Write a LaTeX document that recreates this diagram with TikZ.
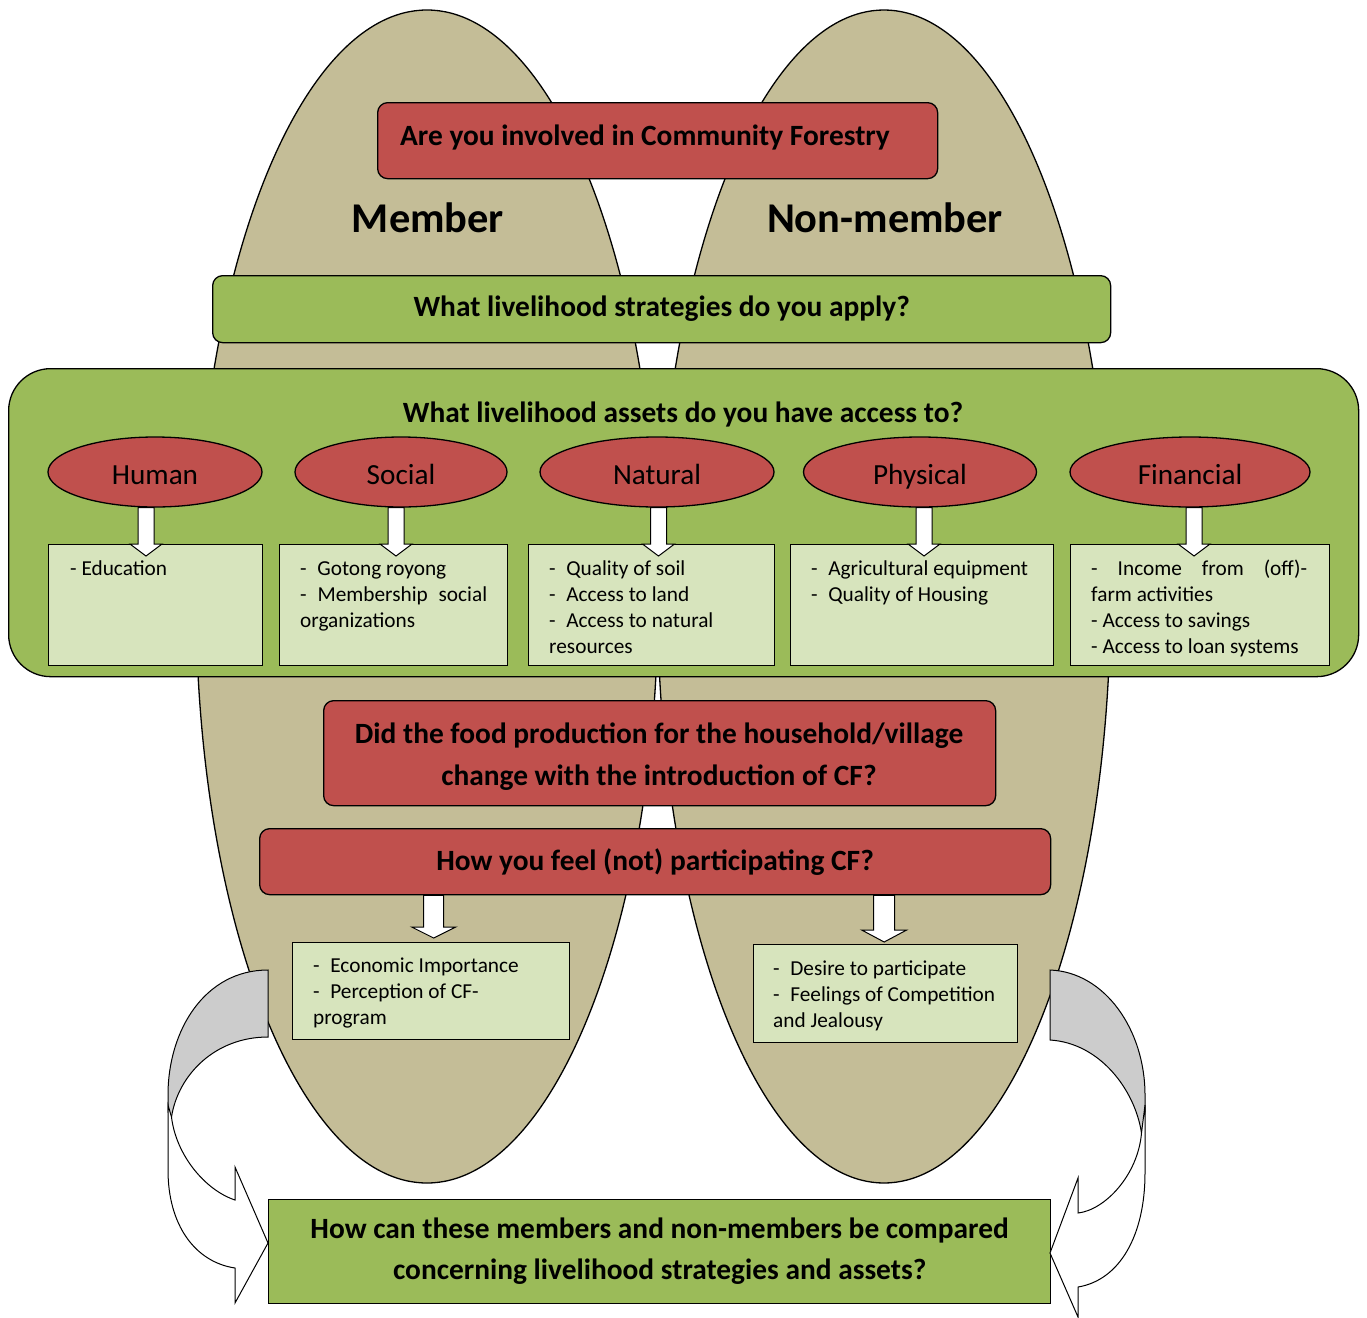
\documentclass[tikz,border=0pt]{standalone}
\usepackage{fontspec}
\setmainfont{Carlito}
\usetikzlibrary{calc,shapes.geometric}

\definecolor{cfTan}{HTML}{C4BD97}
\definecolor{cfRed}{HTML}{C0504D}
\definecolor{cfGreen}{HTML}{9BBB59}
\definecolor{cfLight}{HTML}{D7E4BD}
\definecolor{cfGray}{HTML}{CCCCCC}

\newcommand\headfont{\fontsize{29.4}{42}\selectfont\bfseries}
\newcommand\groupfont{\fontsize{42.4}{48}\selectfont\bfseries}
\newcommand\assetfont{\fontsize{29.2}{34}\selectfont}
\newcommand\itemfont{\fontsize{21.3}{26}\selectfont}

% white block arrow pointing down
% #1 x source, #2 shaft top source, #3 tip source, #4 x shift,
% #5 tip shift (down), #6 shaft half width, #7 head half width, #8 head length
\newcommand\blockdown[8]{%
  \draw[blockarrow] let \p1=(#1), \p2=(#2), \p3=(#3) in
    ({\x1+(#4)-#6},{\y2}) -- ({\x1+(#4)-#6},{\y3-(#5)+#8})
    -- ({\x1+(#4)-#7},{\y3-(#5)+#8}) -- ({\x1+(#4)},{\y3-(#5)})
    -- ({\x1+(#4)+#7},{\y3-(#5)+#8}) -- ({\x1+(#4)+#6},{\y3-(#5)+#8})
    -- ({\x1+(#4)+#6},{\y2}) -- cycle;}

\begin{document}
\begin{tikzpicture}[x=1pt,y=-1pt,
  base/.style={draw=black, line width=1.3pt},
  grp/.style={base, fill=cfTan, ellipse, inner sep=0pt, minimum height=1173pt},
  redbox/.style={base, fill=cfRed, rounded corners=10pt, anchor=north west, inner sep=0pt},
  greenbox/.style={base, fill=cfGreen, rounded corners=10pt, anchor=north west, inner sep=0pt},
  asset/.style={base, fill=cfRed, ellipse, inner sep=0pt, font=\assetfont,
    minimum height=70pt, text height=24pt, text depth=0pt},
  itembox/.style={base, fill=cfLight, anchor=north west, inner sep=0pt},
  itemtext/.style={anchor=north west, inner sep=0pt, font=\itemfont, align=left},
  headtext/.style={font=\headfont, inner sep=0pt, align=center},
  blockarrow/.style={draw=black, line width=1pt, fill=white, line join=miter},
  backface/.style={draw=black, line width=1pt, fill=cfGray, line join=miter},
  frontface/.style={draw=black, line width=1pt, fill=white, line join=miter}]

\useasboundingbox (0,0) rectangle (1367,1317);

% the two groups
\node[grp, minimum width=462pt] (memgrp) at (427,596.5) {};
\node[grp, minimum width=453pt] (nongrp) at (884,596.5) {};

% opening question and group names
\node[redbox, minimum width=560pt, minimum height=76pt] (cfbox) at (377,102) {};
\node[headtext] (cfq) at (645,137) {Are you involved in Community Forestry};
\node[font=\groupfont, inner sep=0pt] (memlbl) at (428,218) {Member};
\node[font=\groupfont, inner sep=0pt] (nonlbl) at (885,218) {Non-member};

% strategies
\node[greenbox, font=\headfont, minimum width=898pt, minimum height=67pt] (strat) at (212,275)
  {What livelihood strategies do you apply?};

% assets panel
\node[greenbox, rounded corners=42pt, minimum width=1350pt, minimum height=308pt] (assets) at (8,368) {};
\node[headtext] (assetq) at (683,414) {What livelihood assets do you have access to?};

\node[asset, minimum width=214pt] (hum) at (155,472) {Human};
\node[asset, minimum width=212pt] (soc) at (401,472) {Social};
\node[asset, minimum width=234pt] (nat) at (657,472) {Natural};
\node[asset, minimum width=233pt] (phy) at (920,472) {Physical};
\node[asset, minimum width=240pt] (fin) at (1190,472) {Financial};

\node[itembox, minimum width=214pt, minimum height=121pt] (humbox) at (48,544) {};
\node[itembox, minimum width=228pt, minimum height=121pt] (socbox) at (279,544) {};
\node[itembox, minimum width=246pt, minimum height=121pt] (natbox) at (528,544) {};
\node[itembox, minimum width=263pt, minimum height=121pt] (phybox) at (790,544) {};
\node[itembox, minimum width=259pt, minimum height=121pt] (finbox) at (1070,544) {};

\node[itemtext] (humtxt) at ([shift={(22,13)}]humbox.north west)
  {\strut- Education};
\node[itemtext] (soctxt) at ([shift={(21,13)}]socbox.north west)
  {\strut-\hspace{0.5em}Gotong royong\\\makebox[187pt][s]{- Membership social}\\organizations};
\node[itemtext] (nattxt) at ([shift={(21,13)}]natbox.north west)
  {\strut-\hspace{0.5em}Quality of soil\\-\hspace{0.5em}Access to land\\-\hspace{0.5em}Access to natural\\resources};
\node[itemtext] (phytxt) at ([shift={(21,13)}]phybox.north west)
  {\strut-\hspace{0.5em}Agricultural equipment\\-\hspace{0.5em}Quality of Housing};
\node[itemtext] (fintxt) at ([shift={(21,13)}]finbox.north west)
  {\strut\makebox[216pt][s]{- Income from (off)-}\\farm activities\\- Access to savings\\- Access to loan systems};

\blockdown{hum.south}{hum.south}{humbox.north}{-9pt}{12pt}{8pt}{16pt}{12pt}
\blockdown{soc.south}{soc.south}{socbox.north}{-5pt}{12pt}{8pt}{16pt}{12pt}
\blockdown{nat.south}{nat.south}{natbox.north}{1.5pt}{12pt}{8pt}{16pt}{12pt}
\blockdown{phy.south}{phy.south}{phybox.north}{4pt}{12pt}{8pt}{16pt}{12pt}
\blockdown{fin.south}{fin.south}{finbox.north}{4pt}{12pt}{8pt}{16pt}{12pt}

% food production and feelings
\node[redbox, minimum width=672pt, minimum height=105pt] (food) at (323,700) {};
\node[headtext] (foodq) at (659,757)
  {Did the food production for the household/village\\change with the introduction of CF?};
\node[redbox, font=\headfont, minimum width=791pt, minimum height=66pt] (feel) at (259,828)
  {How you feel (not) participating CF?};

\node[itembox, minimum width=277pt, minimum height=97pt] (membox) at (292,942) {};
\node[itemtext] (memtxt) at ([shift={(21,12)}]membox.north west)
  {\strut-\hspace{0.5em}Economic Importance\\-\hspace{0.5em}Perception of CF-\\program};
\node[itembox, minimum width=264pt, minimum height=98pt] (nonbox) at (753,944) {};
\node[itemtext] (nontxt) at ([shift={(20,13)}]nonbox.north west)
  {\strut-\hspace{0.5em}Desire to participate\\-\hspace{0.5em}Feelings of Competition\\and Jealousy};

\blockdown{membox.north}{feel.south}{membox.north}{2.5pt}{-4pt}{10pt}{22pt}{11pt}
\blockdown{nonbox.north}{feel.south}{nonbox.north}{-1.5pt}{-2pt}{10.5pt}{22.5pt}{12pt}

% comparison
\node[greenbox, sharp corners, font=\fontsize{29.4}{41}\selectfont\bfseries, align=center,
  minimum width=782pt, minimum height=104pt] (compare) at (268,1199)
  {How can these members and non-members be compared\\concerning livelihood strategies and assets?};

% curved arrow, member side
\draw[backface] (268,970) .. controls (205,970) and (168,1030) .. (168,1095)
  -- (168,1112) -- (171.5,1117) .. controls (178,1075) and (215,1037) .. (268,1037) -- cycle;
\draw[frontface] (171.5,1117) .. controls (176,1155) and (205,1190) .. (235,1200)
  -- (235,1167) -- (268,1243) -- (235,1303) -- (235,1268)
  .. controls (195,1262) and (168,1225) .. (168,1170) -- (168,1105) -- cycle;

% curved arrow, non-member side
\draw[backface] (1050,970) .. controls (1105,972) and (1145,1030) .. (1145,1095)
  -- (1145,1112) -- (1141.5,1133) .. controls (1135,1090) and (1100,1043) .. (1050,1040) -- cycle;
\draw[frontface] (1141.5,1133) .. controls (1138,1175) and (1105,1210) .. (1078,1213)
  -- (1078,1178) -- (1050,1253) -- (1078,1317) -- (1078,1287)
  .. controls (1120,1280) and (1145,1235) .. (1145,1173) -- (1145,1105) -- cycle;

\end{tikzpicture}
\end{document}
